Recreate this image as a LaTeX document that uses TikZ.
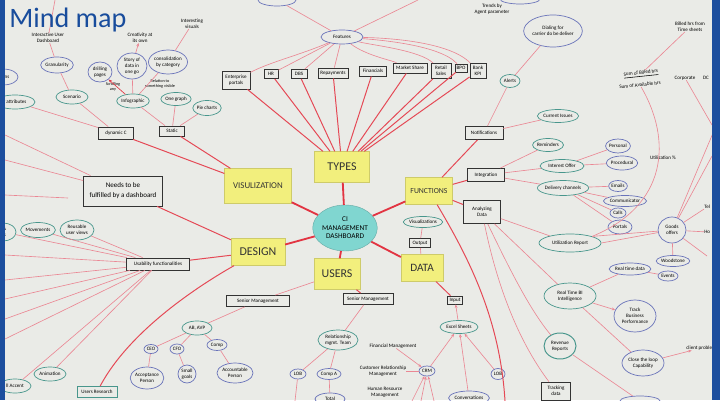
\documentclass[tikz,border=0pt]{standalone}
\usepackage{fontspec}
\setmainfont{Carlito}
\usetikzlibrary{shapes.geometric,arrows.meta}
\definecolor{paper}{RGB}{234,235,231}
\definecolor{bordc}{RGB}{28,78,158}
\definecolor{titlec}{RGB}{24,76,156}
\definecolor{stickyc}{RGB}{242,239,125}
\definecolor{cyanc}{RGB}{128,214,208}
\definecolor{redc}{RGB}{226,52,66}
\definecolor{pinkc}{RGB}{234,135,148}
\definecolor{tealc}{RGB}{72,150,140}
\definecolor{bluec}{RGB}{105,115,185}
\newlength\pxu
\setlength\pxu{0.025cm}
\newcommand\hwf{\fontsize{3.6}{4.1}\selectfont}
\begin{document}
\begin{tikzpicture}[x=0.025cm,y=-0.025cm,
  px/.style 2 args={minimum width=#1\pxu, minimum height=#2\pxu},
  stk/.style={fill=stickyc, draw=stickyc!85!black, line width=0.2pt, inner sep=0pt, align=center, text=black!80},
  rb/.style={draw=black!80, line width=0.6pt, inner sep=0.5pt, align=center, font=\hwf},
  el/.style={ellipse, draw=tealc, line width=0.5pt, inner sep=0pt, align=center, font=\hwf},
  elb/.style={el, draw=bluec},
  tx/.style={inner sep=0pt, align=center, font=\hwf},
  thk/.style={draw=redc, line width=1.3pt},
  rd/.style={draw=redc!90, line width=0.7pt},
  pk/.style={draw=pinkc, line width=0.45pt},
  ar/.style={pk, -{Stealth[length=2.5pt,width=2pt]}}]
\useasboundingbox (0,0) rectangle (720,400);
\fill[paper] (0,0) rectangle (720,400);
\begin{scope}
\clip (0,0) rectangle (720,400);
% ---------- center and stickies
\node[ellipse, fill=cyanc, draw=cyanc!80!black, line width=0.3pt, px={64}{46}, inner sep=0pt, align=center, font=\fontsize{5.2}{6}\selectfont] (ci) at (345,228) {CI\\MANAGEMENT\\DASHBOARD};
\node[stk, px={55}{31}, font=\fontsize{8.5}{9}\selectfont] (types) at (342,167) {TYPES};
\node[stk, px={67}{35}, font=\fontsize{6.3}{7}\selectfont] (vis) at (258,186) {VISULIZATION};
\node[stk, px={47}{27}, font=\fontsize{5.5}{6}\selectfont] (func) at (429,191) {FUNCTIONS};
\node[stk, px={54}{27}, font=\fontsize{8.5}{9}\selectfont] (design) at (258,252) {DESIGN};
\node[stk, px={46}{31}, font=\fontsize{8.5}{9}\selectfont] (users) at (337,274) {USERS};
\node[stk, px={42}{27}, font=\fontsize{8}{9}\selectfont] (data) at (422,268) {DATA};
% ---------- rectangles
\node[rb, px={28}{18}] (ep) at (236,80) {Enterprise\\portals};
\node[rb, px={14}{9}] (hr) at (271,74) {HR};
\node[rb, px={16}{9}] (dbs) at (299,74) {DBS};
\node[rb, px={30}{10}] (rep) at (333,73) {Repayments};
\node[rb, px={27}{10}] (fin) at (373,71) {Financials};
\node[rb, px={34}{10}] (ms) at (410,68) {Market Share};
\node[rb, px={20}{15}] (rs) at (441,71) {Retail\\Sales};
\node[rb, px={12}{8}] (bpo) at (461,68) {BPO};
\node[rb, px={16}{15}] (bk) at (478,71) {Bank\\KPI};
\node[rb, px={35}{12}] (dyn) at (116,133) {dynamic C};
\node[rb, px={25}{10}] (stat) at (172,131) {Static};
\node[rb, px={79}{30}, font=\fontsize{5}{7}\selectfont] (needs) at (123,191) {Needs to be\\fulfilled by a dashboard};
\node[rb, px={63}{12}] (usab) at (158,264) {Usability functionalities};
\node[rb, px={63}{11}] (sm1) at (258,301) {Senior Management};
\node[rb, px={50}{11}] (sm2) at (368,299) {Senior Management};
\node[rb, px={21}{9}] (outp) at (420,243) {Output};
\node[rb, px={15}{8}] (inp) at (455,300) {Input};
\node[rb, px={38}{13}] (notif) at (484,133) {Notifications};
\node[rb, px={37}{13}] (integ) at (486,175) {Integration};
\node[rb, px={37}{23}] (analyz) at (482,212) {Analyzing\\Data};
\node[rb, px={29}{18}] (track) at (556,391) {Tracking\\data};
\node[rb, draw=tealc, px={40}{11}] (ures) at (97,392) {Users Research};
% ---------- ellipses
\node[elb, px={42}{14}] (feat) at (342,37) {Features};
\node[elb, px={30}{16}] (gran) at (57,65) {Granularity};
\node[el, px={32}{14}] (scen) at (72,97) {Scenario};
\node[elb, px={30}{16}] (pla) at (3,77) {ations};
\node[el, px={40}{14}] (plb) at (15,102) {r attributes};
\node[elb, px={24}{20}] (drill) at (100,72) {drilling\\pages};
\node[elb, px={30}{26}] (story) at (132,66) {Story of\\data in\\one go};
\node[elb, px={30}{24}] (cons) at (168,62) {consolidation\\by category};
\node[el, px={30}{14}] (info) at (133,101) {Infographic};
\node[el, px={22}{13}] (oneg) at (176,99) {One graph};
\node[el, px={26}{15}] (pie) at (207,108) {Pie charts};
\node[el, px={27}{15}] (mov) at (38,230) {Movements};
\node[el, px={34}{20}] (reus) at (77,230) {Reusable\\user views};
\node[el, px={26}{18}] (plc) at (3,232) {s \&\\als};
\node[el, px={32}{14}] (anim) at (50,374) {Animation};
\node[el, px={32}{14}] (pld) at (15,386) {ll Accent};
\node[el, px={30}{14}] (avp) at (197,328) {AB, AVP};
\node[elb, px={14}{9}] (ceo) at (151,349) {CEO};
\node[elb, px={14}{10}] (cfo) at (177,349) {CFO};
\node[elb, px={20}{11}] (comp) at (217,345) {Comp};
\node[elb, px={18}{18}] (sgoal) at (187,374) {Small\\goals};
\node[elb, px={32}{22}] (accp) at (147,378) {Acceptance\\Person};
\node[elb, px={30}{20}] (accn) at (235,373) {Accountable\\Person};
\node[el, px={40}{20}] (rmt) at (338,340) {Relationship\\mgmt. Team};
\node[elb, px={16}{10}] (lobA) at (298,374) {LOB};
\node[elb, px={24}{11}] (compa) at (329,374) {Comp A};
\node[elb, px={30}{12}] (tot) at (330,399) {Total};
\node[el, px={36}{11}] (visz) at (423,222) {Visualizations};
\node[el, px={38}{13}] (excel) at (459,327) {Excel Sheets};
\node[elb, px={16}{10}] (crm) at (427,371) {CRM};
\node[elb, px={14}{11}] (lobB) at (498,374) {LOB};
\node[elb, px={34}{14}] (conv) at (469,398) {Conversations};
\node[el, px={20}{13}] (alerts) at (510,81) {Alerts};
\node[elb, px={50}{32}] (dial) at (553,31) {Dialing for\\carrier do be deliver};
\node[el, px={34}{13}] (curi) at (558,116) {Current Issues};
\node[el, px={30}{13}] (remi) at (548,145) {Reminders};
\node[el, px={44}{13}] (intof) at (562,166) {Interest Offer};
\node[el, px={46}{15}] (deliv) at (563,188) {Delivery channels};
\node[elb, px={22}{14}] (pers) at (618,146) {Personal};
\node[elb, px={30}{14}] (proc) at (622,163) {Procedural};
\node[elb, px={18}{11}] (emails) at (618,186) {Emails};
\node[elb, px={36}{11}] (commu) at (625,201) {Communicator};
\node[elb, px={16}{10}] (calls) at (618,213) {Calls};
\node[elb, px={24}{14}] (portals) at (620,227) {Portals};
\node[el, px={62}{18}] (utilr) at (570,243) {Utilization Report};
\node[elb, px={28}{26}] (goods) at (672,230) {Goods\\offers};
\node[elb, px={30}{11}] (wood) at (673,261) {Woodstone};
\node[elb, px={40}{12}] (rtd) at (630,269) {Real time data};
\node[elb, px={20}{10}] (evts) at (668,276) {Events};
\node[el, px={52}{26}] (rtbi) at (570,296) {Real Time BI\\Intelligence};
\node[elb, px={42}{32}] (tbp) at (635,316) {Track\\Business\\Performance};
\node[el, line width=0.7pt, px={32}{26}] (rev) at (560,346) {Revenue\\Reports};
\node[elb, px={42}{26}] (clc) at (643,363) {Close the loop\\Capability};
\node[elb, px={40}{10}] (botp) at (640,401) {};
\node[elb, px={38}{12}] (tpa) at (277,0) {};
\node[elb, px={40}{10}] (tpb) at (520,-1) {};
% ---------- plain texts
\node[tx] (iud) at (48,38) {Interactive User\\Dashboard};
\node[tx] (creat) at (140,38) {Creativity at\\its own};
\node[tx] (intv) at (192,24) {Interesting\\visuals};
\node[tx, font=\fontsize{3}{3.6}\selectfont] (scroll) at (113,87) {Scrolling\\any};
\node[tx, font=\fontsize{3}{3.6}\selectfont] (relv) at (160,84) {Relation to\\something visible};
\node[tx] (trends) at (492,9) {Trends by\\Agent parameter};
\node[tx] (billed) at (690,27) {Billed hrs from\\Time sheets};
\node[tx, rotate=6] (fraca) at (641,74) {\underline{Sum of Billed hrs}};
\node[tx, rotate=6] (fracb) at (640,85) {Sum of Available hrs};
\node[tx] (utilp) at (663,158) {Utilization \%};
\node[tx] (corp) at (685,78) {Corporate};
\node[tx] (dc) at (706,78) {DC};
\node[tx, anchor=west] (tel) at (704,207) {Tel};
\node[tx, anchor=west] (ho) at (704,232) {Ho};
\node[tx, anchor=west] (clientp) at (686,348) {client problem};
\node[tx] (finm) at (393,346) {Financial Management};
\node[tx] (crmt) at (383,371) {Customer Relationship\\Management};
\node[tx] (hrm) at (385,392) {Human Resource\\Management};
% ---------- free ends
\coordinate (fa) at (418,0);
\coordinate (fb) at (55,0);
\coordinate (la) at (5,135);
\coordinate (lb) at (5,160);
\coordinate (lc) at (5,195);
\coordinate (ld) at (68,198);
\coordinate (le) at (5,255);
\coordinate (lf) at (5,280);
\coordinate (lg) at (5,299);
\coordinate (lh) at (5,319);
\coordinate (li) at (5,339);
\coordinate (ra) at (713,133);
\coordinate (rb2) at (712,156);
\coordinate (rc) at (707,256);
\coordinate (rd2) at (712,125);
\coordinate (ba) at (505,401);
\coordinate (bb) at (295,401);
\coordinate (bc) at (412,401);
\coordinate (bd) at (421,401);
\coordinate (be) at (434,401);
% ---------- connectors
\foreach \n in {types,vis,func,design,users,data} \draw[thk] (ci) -- (\n);
\foreach \n in {ep,hr,dbs,rep,fin,ms,rs,bpo,bk} \draw[rd] (types) -- (\n);
\draw[pk] (feat) .. controls (300,55) and (270,62) .. (ep);
\foreach \n in {hr,dbs,rep} \draw[pk] (feat) -- (\n);
\draw[pk] (feat) .. controls (370,45) and (420,50) .. (rs);
\draw[pk] (feat) .. controls (380,40) and (440,45) .. (bpo);
\draw[pk] (feat) .. controls (390,38) and (450,42) .. (bk);
\draw[pk] (feat) .. controls (365,55) and (390,60) .. (ms);
\draw[pk] (feat) -- (tpa);
\draw[pk] (feat) -- (fa);
\draw[rd] (dyn) -- (vis);
\draw[rd] (stat) -- (vis);
\draw[rd] (needs) -- (design);
\draw[rd] (design) -- (usab);
\draw[rd] (design) .. controls (200,285) and (130,330) .. (ures);
\draw[pk] (plb) -- (dyn);
\draw[pk] (scen) -- (dyn);
\draw[pk] (gran) -- (scen);
\draw[pk] (iud) -- (gran);
\draw[pk] (iud) -- (fb);
\draw[pk] (info) -- (stat);
\draw[pk] (oneg) -- (stat);
\draw[pk] (pie) -- (stat);
\draw[ar, draw=redc] (info) -- (drill);
\draw[pk] (info) -- (story);
\draw[pk] (info) -- (cons);
\draw[ar] (story) -- (creat);
\draw[pk] (cons) -- (intv);
\draw[pk] (needs) -- (la);
\draw[pk] (needs) -- (lb);
\draw[pk] (lc) -- (ld);
\foreach \n in {plc,mov,reus,le,lf,lg,lh,li,pld,anim} \draw[pk] (usab) -- (\n);
\foreach \n in {notif,integ,analyz} \draw[rd] (func) -- (\n);
\draw[pk] (notif) -- (alerts);
\draw[pk] (notif) -- (curi);
\draw[pk] (alerts) -- (dial);
\foreach \n in {remi,intof,deliv} \draw[pk] (integ) -- (\n);
\draw[pk] (intof) -- (pers);
\draw[pk] (intof) -- (proc);
\foreach \n in {emails,commu,calls,portals} \draw[pk] (deliv) -- (\n);
\draw[pk] (analyz) -- (utilr);
\draw[pk] (utilr.east) -- (goods);
\draw[pk] (utilr.north east) -- (goods);
\draw[pk] (fracb) .. controls (672,140) and (668,205) .. (utilr.north east);
\draw[pk] (fraca) -- (billed);
\draw[pk] (corp) -- (rd2);
\foreach \n in {ra,rb2,tel,ho,rc,wood} \draw[pk] (goods) -- (\n);
\draw[pk] (analyz) -- (rtbi);
\draw[pk] (analyz) .. controls (510,270) and (530,310) .. (rev);
\draw[pk] (analyz) .. controls (500,300) and (525,350) .. (track);
\draw[rd] (func) .. controls (470,260) and (500,320) .. (ba);
\draw[pk] (rtbi) -- (rtd);
\draw[pk] (rtd) -- (evts);
\draw[ar] (rtbi) -- (tbp);
\draw[pk] (rtbi) -- (clc);
\draw[ar] (clc) -- (clientp);
\draw[pk] (rev) -- (botp);
\draw[pk] (visz) -- (outp);
\draw[pk] (outp) -- (data);
\draw[rd] (data) -- (inp);
\draw[ar] (excel) -- (inp);
\draw[ar] (crm) -- (excel);
\draw[ar] (lobB) -- (excel);
\draw[ar] (conv) -- (excel);
\draw[ar] (finm) -- (crm);
\draw[pk] (crmt) -- (crm);
\draw[ar] (bc) -- (crm);
\draw[ar] (bd) -- (crm);
\draw[ar] (be) -- (crm);
\draw[pk] (users) -- (sm1);
\draw[rd] (users) -- (sm2);
\draw[pk] (sm2) -- (rmt);
\draw[pk] (sm1) -- (avp);
\foreach \n in {ceo,cfo,comp} \draw[pk] (avp) -- (\n);
\draw[pk] (comp) -- (accn);
\draw[pk] (ceo) -- (accp);
\draw[pk] (cfo) -- (sgoal);
\draw[pk] (rmt) -- (lobA);
\draw[pk] (rmt) -- (compa);
\draw[pk] (lobA) -- (bb);
\draw[pk] (compa) -- (tot);
\end{scope}
\fill[bordc] (0,0) rectangle (5,400);
\fill[bordc] (712,0) rectangle (720,400);
\node[anchor=west, inner sep=0pt, text=titlec, font=\fontsize{20}{22}\selectfont] (title) at (9,20) {Mind map};
\end{tikzpicture}
\end{document}
